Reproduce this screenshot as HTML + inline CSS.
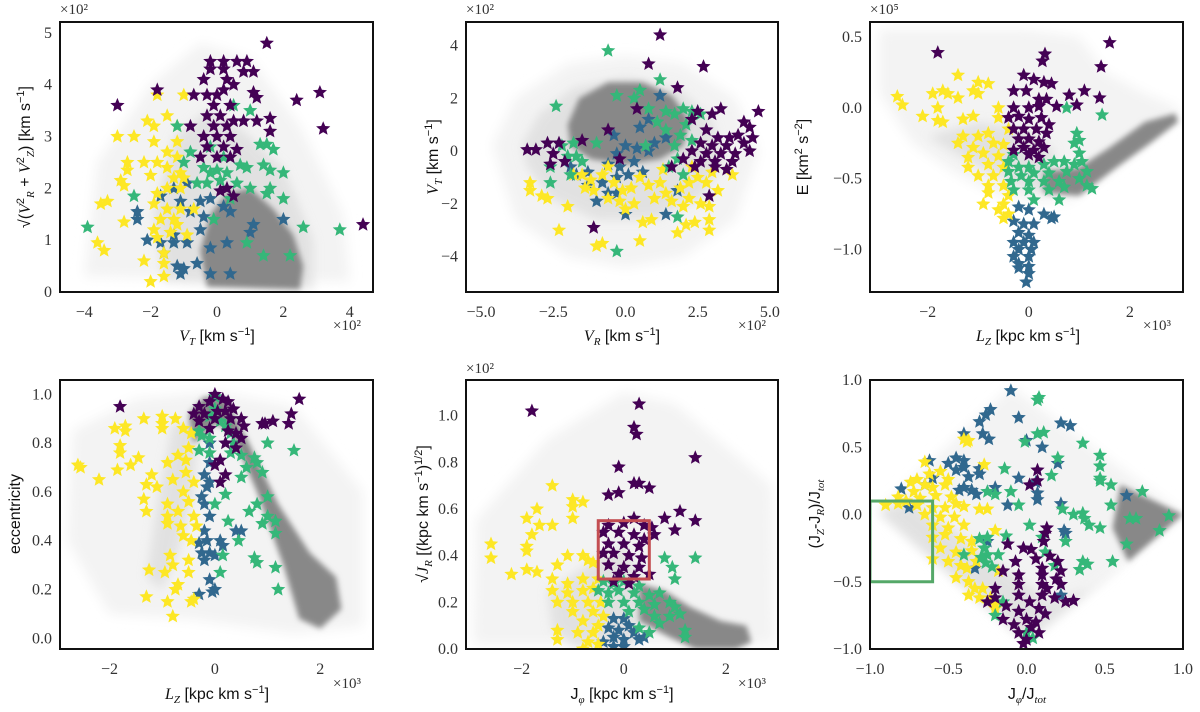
<!DOCTYPE html>
<html><head><meta charset="utf-8"><style>
html,body{margin:0;padding:0;background:#fff;}
svg{display:block;font-family:"Liberation Serif",serif;}
.tk{font-size:16px;fill:#333;}
.lb{font-size:16px;fill:#111;font-family:"Liberation Sans",sans-serif;}
.it{font-family:"Liberation Serif",serif;font-style:italic;}
.sc{font-size:15px;fill:#333;}
</style></head><body>
<svg id="chart" width="1200" height="712" viewBox="0 0 1200 712" xmlns="http://www.w3.org/2000/svg">
<defs>
<filter id="blur3" x="-20%" y="-20%" width="140%" height="140%"><feGaussianBlur stdDeviation="6"/></filter>
<filter id="blur4" x="-20%" y="-20%" width="140%" height="140%"><feGaussianBlur stdDeviation="5"/></filter>
<filter id="blur2" x="-20%" y="-20%" width="140%" height="140%"><feGaussianBlur stdDeviation="3"/></filter>
</defs>
<g id="layer"></g>
<g>
<text class="sc" x="60" y="14">×10²</text>
<text class="sc" x="333" y="330">×10²</text>
<text class="lb" x="217" y="341" text-anchor="middle"><tspan class="it">V</tspan><tspan class="it" font-size="11" dy="4">T</tspan><tspan dy="-4"> [km s</tspan><tspan font-size="11" dy="-6">−1</tspan><tspan dy="6">]</tspan></text>
<text class="lb" transform="translate(30,157) rotate(-90)" text-anchor="middle"><tspan>√(</tspan><tspan class="it">V</tspan><tspan font-size="11" dy="-6">2</tspan><tspan class="it" font-size="11" dy="10">R</tspan><tspan dy="-4"> + </tspan><tspan class="it">V</tspan><tspan font-size="11" dy="-6">2</tspan><tspan class="it" font-size="11" dy="10">Z</tspan><tspan dy="-4">) [km s</tspan><tspan font-size="11" dy="-6">−1</tspan><tspan dy="6">]</tspan></text>
</g>
<g>
<text class="sc" x="466" y="14">×10²</text>
<text class="sc" x="738" y="330">×10²</text>
<text class="lb" x="622" y="341" text-anchor="middle"><tspan class="it">V</tspan><tspan class="it" font-size="11" dy="4">R</tspan><tspan dy="-4"> [km s</tspan><tspan font-size="11" dy="-6">−1</tspan><tspan dy="6">]</tspan></text>
<text class="lb" transform="translate(438,157) rotate(-90)" text-anchor="middle"><tspan class="it">V</tspan><tspan class="it" font-size="11" dy="4">T</tspan><tspan dy="-4"> [km s</tspan><tspan font-size="11" dy="-6">−1</tspan><tspan dy="6">]</tspan></text>
</g>
<g>
<text class="sc" x="870" y="14">×10⁵</text>
<text class="sc" x="1143" y="330">×10³</text>
<text class="lb" x="1028" y="341" text-anchor="middle"><tspan class="it">L</tspan><tspan class="it" font-size="11" dy="4">Z</tspan><tspan dy="-4"> [kpc km s</tspan><tspan font-size="11" dy="-6">−1</tspan><tspan dy="6">]</tspan></text>
<text class="lb" transform="translate(808,157) rotate(-90)" text-anchor="middle"><tspan>E [km</tspan><tspan font-size="11" dy="-6">2</tspan><tspan dy="6"> s</tspan><tspan font-size="11" dy="-6">−2</tspan><tspan dy="6">]</tspan></text>
</g>
<g>
<text class="sc" x="333" y="688">×10³</text>
<text class="lb" x="217" y="699" text-anchor="middle"><tspan class="it">L</tspan><tspan class="it" font-size="11" dy="4">Z</tspan><tspan dy="-4"> [kpc km s</tspan><tspan font-size="11" dy="-6">−1</tspan><tspan dy="6">]</tspan></text>
<text class="lb" transform="translate(20,514) rotate(-90)" text-anchor="middle">eccentricity</text>
</g>
<g>
<text class="sc" x="466" y="373">×10²</text>
<text class="sc" x="738" y="688">×10³</text>
<text class="lb" x="622" y="699" text-anchor="middle"><tspan>J</tspan><tspan class="it" font-size="11" dy="4">φ</tspan><tspan dy="-4"> [kpc km s</tspan><tspan font-size="11" dy="-6">−1</tspan><tspan dy="6">]</tspan></text>
<text class="lb" transform="translate(428,514) rotate(-90)" text-anchor="middle"><tspan>√</tspan><tspan class="it">J</tspan><tspan class="it" font-size="11" dy="4">R</tspan><tspan dy="-4"> [(kpc km s</tspan><tspan font-size="11" dy="-6">−1</tspan><tspan dy="6">)</tspan><tspan font-size="11" dy="-6">1/2</tspan><tspan dy="6">]</tspan></text>
</g>
<g>
<text class="lb" x="1027" y="699" text-anchor="middle"><tspan>J</tspan><tspan class="it" font-size="11" dy="4">φ</tspan><tspan dy="-4">/J</tspan><tspan class="it" font-size="11" dy="4">tot</tspan></text>
<text class="lb" transform="translate(820,514) rotate(-90)" text-anchor="middle"><tspan>(J</tspan><tspan class="it" font-size="11" dy="4">Z</tspan><tspan dy="-4">-J</tspan><tspan class="it" font-size="11" dy="4">R</tspan><tspan dy="-4">)/J</tspan><tspan class="it" font-size="11" dy="4">tot</tspan></text>
</g>
</svg>
<script>
const COLORS = {purple:"#440154", blue:"#31688e", green:"#35b779", yellow:"#fde725"};
const p1TicksX = [-4,-2,0,2,4], p1TicksY = [0,1,2,3,4,5];
const p2TicksX = [-5,-2.5,0,2.5,5], p2TicksY = [-4,-2,0,2,4];
const p3TicksX = [-2,0,2], p3TicksY = [0.5,0,-0.5,-1.0];
const p4TicksX = [-2,0,2], p4TicksY = [0,0.2,0.4,0.6,0.8,1.0];
const p5TicksX = [-2,0,2], p5TicksY = [0,0.2,0.4,0.6,0.8,1.0];
const p6TicksX = [-1,-0.5,0,0.5,1], p6TicksY = [-1,-0.5,0,0.5,1];

const p1CloudLight = [[-4,0.3],[-3.6,2.5],[-2,4],[-0.5,4.8],[1,4.5],[2.5,3.2],[3.8,1.5],[4,0.2]];
const p1CloudMid = [[-1.6,0.2],[-1.9,1.5],[-1.3,3.0],[-0.3,3.5],[0.8,3.1],[2.0,2.4],[2.9,1.0],[2.9,0.05]];
const p1CloudDense = [[-0.3,0.1],[-0.5,0.8],[-0.2,1.5],[0.3,1.9],[1.0,2.0],[1.7,1.6],[2.3,1.1],[2.6,0.5],[2.5,0.05]];
const p1Purple = [[1.5,4.8],[-0.2,4.45],[0.2,4.45],[0.6,4.45],[0.9,4.45],[-0.2,4.3],[0.2,4.3],[0.8,4.25],[1.1,4.25],[-0.4,4.1],[0.3,4.1],[0.5,4.0],[-1.8,3.9],[-0.7,3.8],[-0.3,3.8],[0,3.8],[0.2,3.9],[1.1,3.85],[1.2,3.75],[-0.1,3.6],[0.4,3.6],[-3.0,3.6],[2.4,3.7],[3.1,3.85],[-0.3,3.4],[0.1,3.4],[0.5,3.3],[-0.1,3.2],[0.3,3.2],[0.8,3.3],[1.2,3.3],[1.6,3.35],[-0.8,3.2],[-0.4,3.0],[0,3.0],[0.4,3.0],[1.6,3.1],[3.2,3.15],[-0.3,2.8],[0.2,2.8],[0.6,2.75],[-0.5,2.6],[0,2.6],[0.4,2.6],[0.1,1.95],[0.5,1.85],[4.4,1.3],[0.3,2.0]];
const p1Green = [[0.5,3.6],[1.0,3.5],[-1.2,3.2],[1.5,2.85],[1.3,2.85],[1.7,2.75],[-0.8,2.7],[-0.2,2.8],[0.2,2.6],[-1.0,2.5],[-0.4,2.4],[-0.2,2.3],[0,2.35],[0.3,2.3],[0.7,2.45],[0.9,2.4],[1.4,2.45],[1.6,2.35],[2.0,2.3],[-0.6,2.1],[-0.3,2.1],[0.1,2.15],[0.6,2.1],[1.0,2.0],[1.6,2.0],[1.5,1.9],[-2.5,1.85],[2.0,1.8],[0.4,1.8],[-0.1,1.4],[2.6,1.25],[3.7,1.2],[-3.9,1.25],[0.9,0.95],[1.4,0.7],[2.2,0.7]];
const p1Blue = [[-0.9,2.1],[-1.3,2.0],[-1.7,1.85],[-0.2,1.8],[-0.5,1.75],[-1.1,1.75],[0.2,1.65],[-0.8,1.55],[0.4,1.55],[-0.4,1.45],[-2.4,1.4],[-2.4,1.55],[2.0,1.4],[1.1,1.3],[-0.5,1.2],[-1.3,1.1],[1.0,1.15],[-2.1,1.0],[-1.7,0.95],[-1.3,0.95],[-0.9,0.95],[0.3,0.95],[-0.2,0.85],[-1.6,0.75],[-0.6,0.55],[-1.2,0.5],[-1.0,0.45],[-0.2,0.35],[0.4,0.35],[-1.1,0.35]];
const p1Yellow = [[-1.8,3.8],[-1.0,3.8],[-1.5,3.4],[-2.1,3.3],[-1.9,3.2],[-1.2,3.2],[-3.0,3.0],[-2.5,3.0],[-1.9,2.9],[-1.2,2.9],[-1.5,2.7],[-1.2,2.6],[-2.7,2.5],[-2.2,2.5],[-1.8,2.5],[-1.5,2.4],[-1.1,2.3],[-2.7,2.35],[-2.0,2.25],[-1.3,2.2],[-1.0,2.2],[-2.9,2.15],[-2.8,2.05],[-1.8,1.9],[-1.5,2.0],[-1.1,2.0],[-3.3,1.75],[-3.5,1.7],[-1.9,1.7],[-1.5,1.6],[-1.1,1.6],[-0.7,1.6],[-1.7,1.4],[-1.3,1.4],[-2.8,1.35],[-1.2,1.3],[-1.9,1.2],[-1.4,1.15],[-0.9,1.1],[-1.8,1.05],[-3.6,0.95],[-3.4,0.8],[-1.6,0.75],[-2.2,0.6],[-1.6,0.55],[-1.6,0.3],[-2.0,0.2]];

const p2CloudLight = [[-4.6,0.2],[-3.8,2.0],[-2,3.3],[0,3.6],[2,3.3],[3.8,2.0],[4.6,0],[3.8,-2.6],[2,-4],[0,-4.4],[-2,-4],[-3.8,-2.6]];
const p2CloudMid = [[-3.6,0.2],[-3.0,1.4],[-1.8,2.4],[0,2.8],[1.8,2.4],[3.0,1.2],[3.4,-0.4],[2.6,-1.8],[1,-2.6],[-1,-2.6],[-2.6,-1.8],[-3.4,-0.6]];
const p2CloudDense = [[-2.0,1.0],[-1.6,2.0],[-0.6,2.6],[0.6,2.6],[1.6,2.1],[2.2,1.2],[2.0,0.2],[1.2,-0.3],[0,-0.5],[-1.2,-0.3],[-1.9,0.2]];
const p2Purple = [[1.2,4.4],[0.8,3.3],[2.7,3.2],[1.8,2.4],[0.4,1.6],[4.6,1.5],[-0.6,0.8],[-3.4,0.05],[-3.1,0.05],[-2.7,0.3],[-2.5,-0.1],[-2.3,0.3],[-2.1,-0.4],[-2.6,-0.5],[-1.5,0.4],[-0.2,-0.3],[2.5,1.5],[3.0,1.4],[3.3,1.6],[2.3,1.2],[4.1,1.1],[4.3,0.9],[2.8,0.8],[3.2,0.5],[3.6,0.5],[3.9,0.6],[2.6,0.3],[3.0,0.2],[3.5,0.2],[4.1,0.3],[4.4,0.5],[2.3,0],[2.8,-0.1],[3.3,-0.1],[3.8,-0.1],[4.3,0],[2.6,-0.4],[3.1,-0.4],[3.7,-0.4],[2.0,-0.3],[2.4,-0.6],[3.1,-0.6],[1.6,-0.6],[-1.1,-2.9],[2.9,-1.7],[3.5,-0.7]];
const p2Green = [[-0.6,3.8],[1.2,2.7],[0.5,2.3],[-0.3,2.1],[0.3,2.0],[-2.4,1.7],[0.8,1.6],[1.4,1.5],[2.0,1.6],[2.3,1.5],[2.6,1.4],[1.7,1.4],[2.1,1.0],[1.1,1.1],[1.4,0.8],[-1.0,0.3],[-1.8,0.3],[-2.2,0.2],[1.9,0.6],[2.3,0.4],[0.7,0.2],[1.7,0.2],[-2.0,-0.2],[-1.5,-0.4],[-1.7,-0.2],[1.8,-0.3],[1.5,-0.6],[-2.6,-0.6],[-1.9,-0.9],[-2.6,-1.2],[2.0,-0.9],[1.8,-2.5],[-0.3,-3.8]];
const p2Blue = [[1.2,2.1],[0.8,1.2],[0.5,0.9],[-0.4,0.6],[1.4,0.5],[0.0,0.2],[-0.3,-0.1],[0.4,0.1],[0.8,0],[1.0,0.3],[-1.9,-0.6],[-0.6,-0.5],[-0.2,-0.6],[0.3,-0.4],[-1.3,-0.8],[-0.8,-1.2],[-0.3,-1.0],[0.1,-0.9],[0.6,-0.8],[-1.3,-1.3],[-0.3,-1.6],[-1.0,-1.9],[-0.6,-1.6],[1.8,-1.5],[0.0,-2.4],[1.4,-2.4],[-1.7,-0.9]];
const p2Yellow = [[-3.3,-1.2],[-3.3,-1.5],[-2.9,-1.7],[-2.7,-1.8],[-2.0,-2.1],[-2.3,-3.0],[-1.8,-0.9],[-1.5,-0.9],[-1.2,-1.1],[-1.4,-1.4],[-1.1,-1.5],[-0.8,-0.9],[-0.6,-0.6],[-0.4,-1.2],[-0.6,-1.8],[-0.2,-1.9],[0.2,-1.4],[0.5,-1.0],[0.8,-1.3],[1.2,-1.2],[1.4,-1.6],[1.0,-1.8],[1.6,-1.9],[1.9,-1.4],[2.2,-1.2],[2.5,-1.0],[2.8,-1.2],[2.2,-1.8],[2.6,-2.0],[2.9,-2.1],[3.2,-1.5],[3.7,-0.9],[3.0,-0.8],[2.0,-2.1],[0.3,-2.0],[0.6,-2.7],[0.9,-2.6],[2.1,-2.8],[2.4,-2.7],[2.9,-2.6],[2.9,-3.0],[1.8,-3.1],[0.5,-3.4],[-0.8,-3.5],[-1.0,-3.6],[-0.1,-1.5],[1.3,-0.7],[2.3,-0.6],[0.0,-2.2]];

const p3CloudLight = [[-2.95,0.55],[-2.95,0.1],[-2.3,-0.25],[-1.5,-0.45],[-0.6,-0.62],[0,-0.66],[0.8,-0.66],[1.6,-0.45],[2.4,-0.22],[2.95,-0.07],[2.95,0.0],[2.3,0.1],[1.5,0.25],[1.0,0.5],[0,0.55]];
const p3CloudMid = [[-2.0,-0.2],[-1.0,-0.42],[0,-0.58],[0.5,-0.6],[0.5,-0.3],[0,-0.15],[-1,-0.1]];
const p3CloudDense = [[0.3,-0.45],[1.0,-0.42],[1.6,-0.28],[2.3,-0.1],[2.9,-0.04],[2.95,-0.1],[2.4,-0.25],[1.7,-0.43],[1.0,-0.62],[0.3,-0.6]];
const p3Purple = [[-1.8,0.39],[0.32,0.38],[0.27,0.33],[1.6,0.46],[1.43,0.29],[-0.1,0.23],[0.1,0.20],[0.3,0.18],[0.45,0.17],[-0.3,0.12],[-0.05,0.12],[0.2,0.06],[0.35,0.06],[0.8,0.09],[1.1,0.12],[1.4,0.07],[0.95,0.02],[0.55,0.01],[-0.3,0.0],[0,0.0],[0.2,0.01],[-0.4,-0.07],[-0.2,-0.06],[0,-0.08],[0.25,-0.07],[0.4,-0.12],[-0.3,-0.15],[-0.1,-0.15],[0.15,-0.15],[0.35,-0.18],[-0.2,-0.22],[0,-0.22],[0.2,-0.24],[-0.1,-0.28],[0.1,-0.3],[0.3,-0.28],[-0.3,-0.3],[0,-0.33],[0.2,-0.35]];
const p3Green = [[0.75,0.0],[1.45,-0.05],[0.95,-0.18],[1.0,-0.23],[0.9,-0.25],[1.0,-0.32],[1.05,-0.38],[-0.3,-0.33],[-0.4,-0.38],[-0.2,-0.42],[0,-0.42],[0.3,-0.40],[0.5,-0.38],[0.7,-0.38],[0.9,-0.40],[-0.4,-0.45],[-0.15,-0.48],[0.1,-0.46],[0.4,-0.46],[0.75,-0.45],[1.15,-0.45],[-0.35,-0.52],[0,-0.52],[0.3,-0.52],[0.6,-0.52],[1.0,-0.5],[-0.3,-0.58],[0,-0.58],[0.4,-0.58],[0.7,-0.56],[1.15,-0.55],[1.25,-0.57],[0.1,-0.65],[0.6,-0.65]];
const p3Blue = [[-0.2,-0.7],[0,-0.72],[0.3,-0.75],[0.5,-0.77],[0.45,-0.78],[-0.3,-0.8],[-0.1,-0.82],[0.1,-0.82],[-0.2,-0.88],[0,-0.9],[-0.3,-0.95],[-0.1,-0.95],[0.1,-0.95],[-0.2,-1.0],[0.05,-1.0],[-0.3,-1.05],[0,-1.05],[-0.2,-1.1],[0,-1.12],[-0.2,-1.13],[0,-1.17],[-0.05,-1.23]];
const p3Yellow = [[-2.6,0.08],[-2.5,0.02],[-1.4,0.23],[-1.0,0.18],[-0.8,0.17],[-1.9,0.1],[-1.7,0.12],[-1.6,0.1],[-1.1,0.12],[-1.0,0.1],[-1.4,0.07],[-2.1,-0.06],[-1.8,0.0],[-1.8,-0.09],[-1.7,-0.1],[-1.3,-0.08],[-1.1,-0.06],[-0.6,0.0],[-0.6,-0.07],[-0.4,-0.15],[-1.3,-0.2],[-1.0,-0.2],[-0.8,-0.18],[-1.4,-0.25],[-1.1,-0.28],[-0.7,-0.25],[-0.5,-0.26],[-1.2,-0.35],[-0.9,-0.32],[-0.6,-0.34],[-1.2,-0.42],[-0.8,-0.40],[-0.5,-0.42],[-1.0,-0.48],[-0.7,-0.48],[-0.8,-0.55],[-0.5,-0.55],[-0.8,-0.6],[-0.4,-0.62],[-0.5,-0.68],[-0.9,-0.68],[-0.6,-0.72],[-0.4,-0.75],[-0.5,-0.78]];

const p4CloudLight = [[-2.7,0.85],[-1.5,0.98],[0,1.01],[1.5,0.95],[2.8,0.6],[2.8,0.05],[1.5,0.02],[-0.5,0.08],[-2.0,0.1],[-2.8,0.4]];
const p4CloudMid = [[-0.8,0.88],[-0.3,0.9],[-0.4,0.6],[-0.7,0.35],[-1.0,0.2],[-1.3,0.25],[-1.1,0.55]];
const p4CloudDense = [[-0.5,0.92],[-0.2,0.99],[0.2,0.98],[0.6,0.82],[1.2,0.55],[1.8,0.35],[2.3,0.25],[2.4,0.12],[2.0,0.04],[1.6,0.08],[1.3,0.3],[0.8,0.6],[0.3,0.85],[0,0.88],[-0.4,0.8]];
const p4Purple = [[-0.3,0.95],[-0.1,0.97],[0,1.0],[0.15,0.98],[0.25,0.97],[-0.4,0.92],[-0.2,0.92],[0.05,0.93],[0.2,0.93],[0.35,0.94],[-0.3,0.89],[0,0.9],[0.3,0.9],[0.5,0.9],[0.55,0.87],[-0.1,0.86],[0.25,0.85],[0.4,0.84],[0.5,0.82],[0.2,0.8],[0.4,0.78],[0.1,0.73],[0,0.71],[0.2,0.67],[0.1,0.64],[-1.8,0.95],[1.6,0.98],[1.45,0.92],[1.4,0.88],[1.1,0.89],[0.95,0.88],[0.9,0.88]];
const p4Green = [[0,0.99],[0,0.94],[-0.1,0.91],[0.1,0.89],[0.2,0.87],[0.3,0.84],[-0.3,0.85],[-0.25,0.83],[-0.1,0.82],[0.35,0.8],[-0.3,0.77],[-0.1,0.76],[0.3,0.76],[0.5,0.75],[0.75,0.74],[0.8,0.72],[0.6,0.7],[1.5,0.77],[1.0,0.8],[0.9,0.68],[0.5,0.66],[0.2,0.59],[1.0,0.58],[0.8,0.55],[0,0.55],[0.65,0.52],[1.0,0.5],[1.15,0.48],[0.9,0.47],[0.25,0.48],[1.15,0.43],[0.45,0.4],[0.15,0.34],[0.75,0.33],[0.8,0.31],[1.15,0.29],[0.1,0.27],[1.2,0.2]];
const p4Blue = [[-0.1,0.8],[-0.1,0.72],[-0.2,0.67],[-0.15,0.62],[-0.1,0.64],[-0.25,0.58],[-0.2,0.55],[-0.1,0.5],[0.4,0.44],[0.5,0.44],[-0.2,0.44],[-0.15,0.4],[-0.3,0.39],[0.1,0.4],[0.15,0.38],[-0.25,0.35],[-0.1,0.35],[0,0.34],[-0.2,0.32],[-0.1,0.24],[-0.3,0.18],[0,0.2],[-0.05,0.19]];
const p4Yellow = [[-1.9,0.86],[-1.7,0.87],[-1.7,0.85],[-1.35,0.9],[-1.0,0.91],[-1.0,0.88],[-0.75,0.9],[-0.6,0.86],[-0.45,0.84],[-1.0,0.86],[-1.8,0.79],[-1.8,0.76],[-1.45,0.74],[-1.6,0.71],[-2.6,0.71],[-2.55,0.7],[-1.85,0.69],[-2.2,0.65],[-1.2,0.67],[-0.9,0.72],[-0.7,0.75],[-0.55,0.73],[-0.5,0.78],[-1.3,0.63],[-1.1,0.62],[-0.8,0.65],[-0.55,0.68],[-0.4,0.64],[-1.35,0.57],[-1.3,0.52],[-0.9,0.55],[-0.6,0.6],[-0.9,0.5],[-0.7,0.52],[-0.5,0.56],[-0.4,0.5],[-0.9,0.47],[-0.65,0.46],[-0.35,0.46],[-0.6,0.42],[-0.45,0.4],[-0.85,0.34],[-0.8,0.3],[-0.5,0.32],[-1.25,0.28],[-0.95,0.27],[-0.5,0.27],[-0.7,0.22],[-0.75,0.2],[-1.3,0.17],[-0.9,0.15],[-0.4,0.16],[-0.45,0.15],[-0.8,0.09]];

const p5CloudLight = [[-2.9,0.55],[-1.5,0.9],[0,1.1],[1,1.05],[2.9,0.7],[2.95,0.02],[-2.95,0.02]];
const p5CloudMid = [[-1.5,0.25],[-0.7,0.36],[0,0.45],[0.4,0.28],[0.2,0.0],[-0.9,0.0],[-1.4,0.08]];
const p5CloudDense = [[0.3,0.28],[0.8,0.25],[1.3,0.18],[1.9,0.12],[2.4,0.1],[2.5,0.03],[2.2,0.0],[1.4,0.0],[0.9,0.05],[0.3,0.12]];
const p5Box = [-0.5,0.3,0.5,0.55];
const p5Purple = [[-1.8,1.02],[0.3,1.05],[0.2,0.95],[0.25,0.92],[1.4,0.82],[-0.1,0.78],[0.2,0.71],[0.3,0.71],[0.5,0.69],[-0.3,0.66],[-0.1,0.67],[1.1,0.59],[0.8,0.56],[1.4,0.55],[1.0,0.51],[0.55,0.52],[0.6,0.49],[-0.3,0.53],[0,0.54],[0.2,0.56],[0.4,0.53],[-0.4,0.5],[-0.1,0.5],[0.2,0.49],[0.4,0.47],[-0.3,0.45],[0,0.45],[0.3,0.44],[-0.4,0.41],[-0.2,0.41],[0.1,0.4],[0.35,0.39],[-0.3,0.36],[0,0.35],[0.3,0.35],[-0.1,0.32],[0.2,0.31],[0.5,0.32],[-0.2,0.29],[0.1,0.28]];
const p5Green = [[0.8,0.39],[1.4,0.39],[0.95,0.35],[1.0,0.3],[-0.4,0.29],[-0.2,0.28],[0,0.29],[0.3,0.27],[-0.5,0.25],[-0.3,0.24],[-0.1,0.25],[0.2,0.24],[0.5,0.23],[0.7,0.24],[-0.3,0.2],[0,0.2],[0.3,0.2],[0.6,0.19],[0.9,0.2],[1.0,0.18],[0.1,0.16],[0.4,0.17],[0.6,0.14],[0.9,0.14],[1.1,0.15],[0.7,0.11],[1.2,0.08],[0.5,0.07],[1.2,0.05],[0.3,0.09]];
const p5Blue = [[-0.2,0.13],[0,0.13],[0.1,0.1],[-0.3,0.09],[-0.1,0.08],[0.2,0.07],[-0.2,0.05],[0,0.04],[0.3,0.04],[-0.4,0.03],[-0.2,0.01],[0,0.01],[0.4,0.05]];
const p5Yellow = [[-1.4,0.7],[-1.7,0.6],[-1.0,0.64],[-0.8,0.63],[-1.0,0.61],[-1.9,0.56],[-1.65,0.53],[-1.8,0.49],[-1.4,0.53],[-1.0,0.56],[-2.6,0.45],[-1.9,0.44],[-1.9,0.42],[-2.6,0.39],[-1.1,0.4],[-0.8,0.4],[-1.3,0.36],[-0.6,0.37],[-0.7,0.38],[-2.2,0.32],[-1.9,0.34],[-1.7,0.33],[-1.4,0.3],[-1.1,0.28],[-0.8,0.3],[-0.5,0.3],[-1.4,0.25],[-1.1,0.24],[-0.8,0.25],[-0.6,0.26],[-1.3,0.2],[-1.0,0.2],[-0.7,0.2],[-0.45,0.2],[-1.0,0.16],[-0.6,0.16],[-0.4,0.14],[-0.8,0.12],[-0.5,0.1],[-1.3,0.08],[-0.9,0.07],[-0.6,0.07],[-1.3,0.04],[-0.7,0.03],[-0.5,0.02],[-0.8,0.0]];

const p6CloudLight = [[-0.95,0.02],[-0.1,0.95],[1,0],[0,-0.95]];
const p6CloudMid = [[-0.95,0.02],[-0.75,0.1],[-0.3,-0.25],[0.15,-0.65],[0.4,-0.55],[0.7,-0.3],[0,-0.95]];
const p6CloudDense = [[0.6,0.22],[1,0],[0.65,-0.35],[0.55,-0.1]];
const p6Box = [-1.0,-0.5,-0.6,0.1];
const p6Purple = [[0.07,0.33],[0.02,0.22],[0.07,0.25],[0.13,-0.1],[0.12,-0.14],[0.11,-0.2],[0.03,-0.26],[-0.12,-0.22],[-0.02,-0.25],[0.15,-0.31],[0.06,-0.33],[-0.07,-0.35],[0.1,-0.4],[0.2,-0.35],[-0.05,-0.45],[0.1,-0.45],[0.22,-0.42],[0.13,-0.55],[-0.15,-0.42],[-0.05,-0.52],[0.1,-0.52],[0.19,-0.48],[0.22,-0.52],[-0.2,-0.55],[-0.05,-0.6],[0.1,-0.6],[0.18,-0.62],[-0.2,-0.62],[-0.25,-0.65],[0.02,-0.65],[-0.13,-0.68],[0.08,-0.7],[0.25,-0.65],[0.3,-0.64],[-0.05,-0.72],[0.12,-0.74],[-0.15,-0.78],[0.0,-0.78],[0.06,-0.8],[-0.08,-0.82],[0.03,-0.84],[-0.05,-0.88],[0.08,-0.88],[0.0,-0.93],[-0.02,-0.96]];
const p6Green = [[0.08,0.87],[0.07,0.85],[-0.01,0.54],[0.07,0.6],[0.11,0.61],[0.36,0.53],[0.2,0.42],[0.47,0.44],[0.47,0.36],[-0.14,0.34],[0.16,0.29],[0.47,0.27],[0.47,0.25],[0.54,0.22],[0.74,0.17],[-0.2,0.15],[-0.1,0.17],[-0.05,0.07],[-0.25,0.17],[0.23,0.04],[0.3,0.0],[0.36,0.01],[0.54,0.07],[0.37,-0.03],[0.66,-0.03],[0.7,-0.03],[0.91,-0.01],[0.4,-0.08],[0.47,-0.1],[0.85,-0.12],[-0.3,-0.18],[-0.25,-0.17],[0.02,-0.08],[0.25,-0.2],[-0.13,-0.16],[0.36,-0.35],[0.39,-0.37],[0.55,-0.35],[0.64,-0.22],[-0.27,-0.25],[-0.25,-0.3],[-0.29,-0.32],[-0.26,-0.36],[-0.22,-0.39],[0.12,-0.28],[-0.18,-0.3],[0.1,-0.17],[0.18,-0.38],[-0.2,-0.75],[-0.15,-0.65],[0.0,-0.88],[0.04,-0.92],[-0.4,-0.3],[0.34,-0.41]];
const p6Blue = [[-0.1,0.92],[-0.05,0.72],[-0.23,0.78],[-0.26,0.74],[-0.3,0.69],[-0.4,0.6],[-0.28,0.6],[-0.24,0.56],[0.22,0.68],[0.28,0.66],[0,0.55],[0.1,0.5],[-0.45,0.42],[-0.4,0.4],[-0.5,0.38],[-0.4,0.35],[-0.45,0.33],[-0.62,0.4],[-0.3,0.34],[-0.3,0.3],[-0.6,0.27],[-0.65,0.22],[-0.8,0.19],[-0.75,0.05],[-0.37,0.28],[-0.4,0.2],[-0.43,0.18],[-0.35,0.18],[-0.32,0.15],[-0.2,0.2],[-0.12,0.07],[0.2,0.38],[-0.05,0.27],[0.06,0.24],[0.07,0.16],[0.07,0.11],[0.22,0.08],[0.24,-0.12],[0.25,-0.14],[0.64,0.14],[-0.33,-0.4],[0.22,-0.6],[-0.25,-0.2]];
const p6Yellow = [[-0.37,0.55],[-0.4,0.56],[-0.38,0.54],[-0.27,0.37],[-0.65,0.39],[-0.55,0.32],[-0.62,0.3],[-0.7,0.26],[-0.74,0.24],[-0.65,0.22],[-0.5,0.26],[-0.52,0.22],[-0.6,0.2],[-0.72,0.17],[-0.82,0.13],[-0.77,0.1],[-0.68,0.12],[-0.58,0.14],[-0.48,0.13],[-0.9,0.07],[-0.82,0.08],[-0.7,0.07],[-0.6,0.05],[-0.52,0.05],[-0.45,0.08],[-0.4,0.06],[-0.3,0.04],[-0.25,0.04],[-0.65,0.0],[-0.55,-0.02],[-0.46,-0.02],[-0.6,-0.08],[-0.5,-0.1],[-0.4,-0.08],[-0.2,-0.12],[-0.6,-0.17],[-0.52,-0.15],[-0.42,-0.18],[-0.35,-0.2],[-0.55,-0.25],[-0.45,-0.28],[-0.35,-0.27],[-0.6,-0.33],[-0.5,-0.35],[-0.42,-0.38],[-0.38,-0.4],[-0.32,-0.35],[-0.45,-0.47],[-0.37,-0.5],[-0.33,-0.55],[-0.28,-0.55],[-0.37,-0.6],[-0.3,-0.62],[-0.23,-0.62],[-0.2,-0.67],[-0.2,-0.7],[-0.18,-0.42]];

const NS = "http://www.w3.org/2000/svg";
const layer = document.getElementById("layer");
function mk(tag, attrs, parent){
  const e = document.createElementNS(NS, tag);
  for (const k in attrs) e.setAttribute(k, attrs[k]);
  parent.appendChild(e);
  return e;
}
function fmt(v, dec){ const s = v.toFixed(dec); return s.replace("-", "−"); }
function starPath(cx, cy, R){
  const r = R*0.45; let d = "";
  for (let i=0;i<10;i++){
    const a = -Math.PI/2 + i*Math.PI/5, rr = i%2 ? r : R;
    d += (i?"L":"M") + (cx+rr*Math.cos(a)).toFixed(1) + "," + (cy+rr*Math.sin(a)).toFixed(1);
  }
  return d + "Z";
}
function panel(id, cfg){
  const {L,T,W,H,xd,yd,tx,ty,dec,clouds,series,box,boxColor} = cfg;
  const sx = v => L + (v-xd[0])/(xd[1]-xd[0])*W;
  const sy = v => T + H - (v-yd[0])/(yd[1]-yd[0])*H;
  const g = mk("g", {}, layer);
  
  
  const clip = mk("clipPath", {id: id+"-clip"}, g);
  mk("rect", {x:L, y:T, width:W, height:H}, clip);
  const plot = mk("g", {"clip-path":"url(#"+id+"-clip)"}, g);
  
  
  const fills = [["#f3f3f3","blur3",1],["#d4d4d4","blur4",0.55],["#888888","blur2",1]];
  clouds.forEach((poly, i) => {
    const p = mk("polygon", {points: poly.map(q => sx(q[0]).toFixed(1)+","+sy(q[1]).toFixed(1)).join(" "),
      fill: fills[i][0], filter: "url(#"+fills[i][1]+")", opacity: fills[i][2]}, plot);
    
    
  });
  series.forEach(([name, pts]) => {
    const sg = mk("g", {fill: COLORS[name]}, plot);
    
    
    pts.forEach(q => {
      const s = mk("path", {d: starPath(sx(q[0]), sy(q[1]), 7.5)}, sg);
      
      
    });
  });
  if (box){
    const r = mk("rect", {x: sx(box[0]), y: sy(box[3]), width: sx(box[2])-sx(box[0]), height: sy(box[1])-sy(box[3]),
      fill: "none", stroke: boxColor, "stroke-width": 3}, plot);
    
    
  }
  const fr = mk("rect", {x:L, y:T, width:W, height:H, fill:"none", stroke:"#111", "stroke-width":2}, g);
  
  
  tx.forEach(v => {
    const t = mk("text", {x: sx(v), y: T+H+25, "text-anchor":"middle", class:"tk"}, g);
    t.textContent = fmt(v, dec[0]);
    
    
  });
  ty.forEach(v => {
    const t = mk("text", {x: L-8, y: sy(v)+5, "text-anchor":"end", class:"tk"}, g);
    t.textContent = fmt(v, dec[1]);
    
    
  });
}
const ord = (b,y,g,p) => [["blue",b],["yellow",y],["green",g],["purple",p]];
panel("panel1", {L:60,T:22,W:313,H:270,xd:[-4.73,4.7],yd:[0,5.21],tx:p1TicksX,ty:p1TicksY,dec:[0,0],
  clouds:[p1CloudLight,p1CloudMid,p1CloudDense],series:ord(p1Blue,p1Yellow,p1Green,p1Purple)});
panel("panel2", {L:466,T:22,W:312,H:270,xd:[-5.52,5.28],yd:[-5.34,4.89],tx:p2TicksX,ty:p2TicksY,dec:[1,0],
  clouds:[p2CloudLight,p2CloudMid,p2CloudDense],series:ord(p2Blue,p2Yellow,p2Green,p2Purple)});
panel("panel3", {L:870,T:22,W:313,H:270,xd:[-3.14,3.05],yd:[-1.30,0.606],tx:p3TicksX,ty:p3TicksY,dec:[0,1],
  clouds:[p3CloudLight,p3CloudMid,p3CloudDense],series:ord(p3Blue,p3Yellow,p3Green,p3Purple)});
panel("panel4", {L:60,T:380,W:313,H:269,xd:[-2.94,3.0],yd:[-0.044,1.059],tx:p4TicksX,ty:p4TicksY,dec:[0,1],
  clouds:[p4CloudLight,p4CloudMid,p4CloudDense],series:ord(p4Blue,p4Yellow,p4Green,p4Purple)});
panel("panel5", {L:466,T:380,W:312,H:269,xd:[-3.09,3.02],yd:[0,1.153],tx:p5TicksX,ty:p5TicksY,dec:[0,1],
  clouds:[p5CloudLight,p5CloudMid,p5CloudDense],series:ord(p5Blue,p5Yellow,p5Green,p5Purple),box:p5Box,boxColor:"#c44e52"});
panel("panel6", {L:870,T:380,W:313,H:269,xd:[-1,1],yd:[-1,1],tx:p6TicksX,ty:p6TicksY,dec:[1,1],
  clouds:[p6CloudLight,p6CloudMid,p6CloudDense],series:ord(p6Blue,p6Yellow,p6Green,p6Purple),box:p6Box,boxColor:"#55a868"});
</script>
</body></html>
